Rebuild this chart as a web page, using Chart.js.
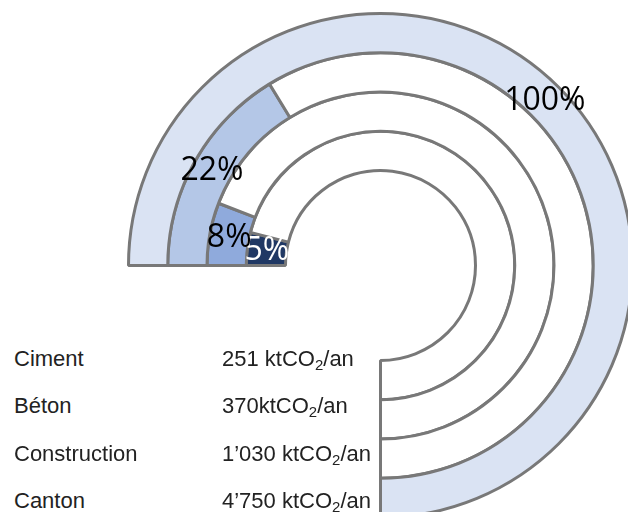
<!DOCTYPE html>
<html>
<head>
<meta charset="utf-8">
<script src="https://cdn.jsdelivr.net/npm/chart.js@4"></script>
<style>
  html, body { margin: 0; padding: 0; width: 628px; height: 512px; overflow: hidden; background: #fff; }
  #wrap { position: absolute; left: 126.5px; top: 11.5px; width: 507px; height: 507px; }
  .row { position: absolute; height: 24px; line-height: 24px; font-family: "Liberation Sans", Arial, sans-serif; font-size: 22px; color: #222; white-space: pre; }
  .row sub { font-size: 0.68em; vertical-align: -0.25em; line-height: 0; }
</style>
</head>
<body>
<div id="wrap"><canvas id="rings"></canvas></div>
<div id="table"></div>
<script>
// outer ring first (Chart.js draws the first dataset outermost)
const categories = ["Canton", "Construction", "Béton", "Ciment"];
const emissions = [4750, 1030, 370, 251];
const amountLabels = ["4’750 ", "1’030 ", "370", "251 "];
const unitLabel = "ktCO<sub>2</sub>/an";

const fillColors = ["#DAE3F3", "#B4C7E7", "#8FAADC", "#203864"];
const labelColors = ["#000000", "#000000", "#000000", "#ffffff"];

const total = emissions[0];

// rows of the little table, drawn from the inner ring to the outer ring
const rowTops = [346.5, 394, 441.5, 489];
const table = document.getElementById("table");
for (let k = 0; k < categories.length; k++) {
  const i = categories.length - 1 - k;
  const name = document.createElement("div");
  name.className = "row";
  name.style.left = "14px";
  name.style.top = rowTops[k] + "px";
  name.textContent = categories[i];
  table.appendChild(name);
  const val = document.createElement("div");
  val.className = "row";
  val.style.left = "222px";
  val.style.top = rowTops[k] + "px";
  val.innerHTML = amountLabels[i] + unitLabel;
  table.appendChild(val);
}

const percentLabels = {
  id: "percentLabels",
  afterDatasetsDraw(chart) {
    const ctx = chart.ctx;
    ctx.save();
    ctx.font = '32px "Open Sans", sans-serif';
    ctx.textAlign = "center";
    ctx.textBaseline = "middle";
    for (let i = chart.data.datasets.length - 1; i >= 0; i--) {
      const arc = chart.getDatasetMeta(i).data[0];
      const pos = arc.tooltipPosition();
      ctx.fillStyle = labelColors[i];
      ctx.fillText(Math.round(emissions[i] / total * 100) + "%", pos.x, pos.y);
    }
    ctx.restore();
  },
};

new Chart(document.getElementById("rings"), {
  type: "doughnut",
  data: {
    labels: ["value", "rest"],
    datasets: categories.map((c, i) => ({
      label: c,
      data: [emissions[i], total - emissions[i]],
      backgroundColor: [fillColors[i], "#ffffff"],
      borderColor: "#787878",
      borderWidth: 3,
    })),
  },
  options: {
    responsive: true,
    maintainAspectRatio: false,
    animation: false,
    rotation: -90,
    circumference: 270,
    cutout: "37.7%",
    plugins: {
      legend: { display: false },
      tooltip: { enabled: false },
    },
    events: [],
  },
  plugins: [percentLabels],
});
</script>
</body>
</html>
